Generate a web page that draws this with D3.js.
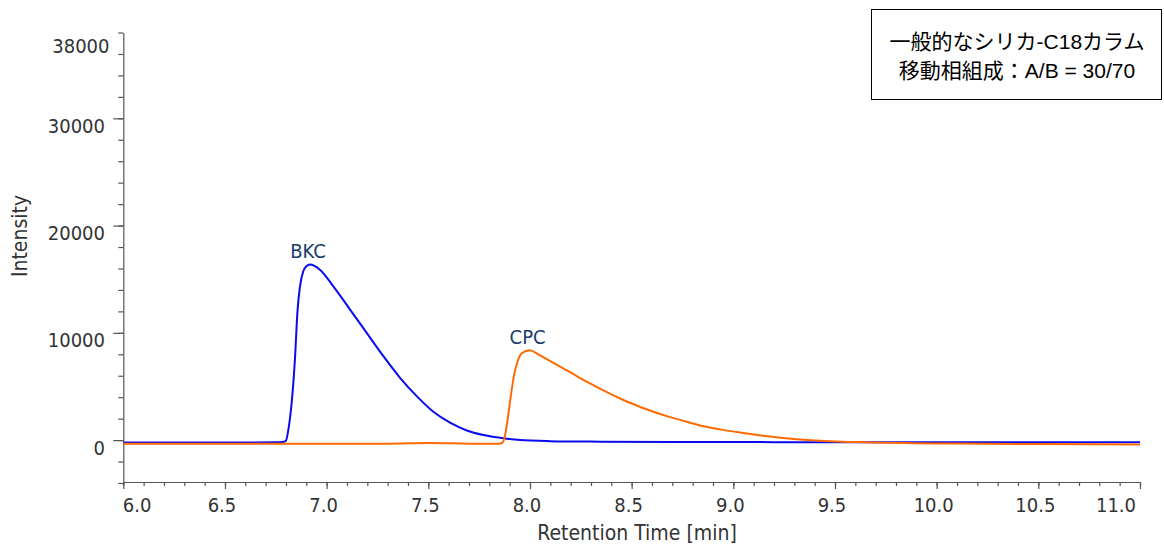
<!DOCTYPE html>
<html>
<head>
<meta charset="utf-8">
<script src="https://cdn.jsdelivr.net/npm/d3@7"></script>
<style>
    html, body { margin: 0; padding: 0; background: #fff; }
    svg { display: block; }
</style>
</head>
<body>
<svg id="chart" width="1164" height="547"></svg>
<script>
// Chromatogram data: [retention time (min), intensity]
var bkcSeries = [
    [6.00, -220], [6.30, -220], [6.60, -215], [6.75, -210], [6.79, -150],
    [6.80, -60], [6.812, 1000], [6.828, 3480], [6.845, 7820], [6.856, 11860],
    [6.869, 14340], [6.885, 15740], [6.90, 16200], [6.918, 16380], [6.94, 16250],
    [6.967, 15890], [7.033, 14340], [7.115, 12170], [7.197, 10000], [7.279, 7820],
    [7.361, 5810], [7.443, 4100], [7.525, 2640], [7.607, 1620], [7.689, 900],
    [7.771, 470], [7.886, 130], [7.95, 0], [8.10, -100], [8.35, -150],
    [8.70, -180], [9.20, -190], [9.60, -200], [10.0, -200], [10.5, -200], [11.0, -210]
];
var cpcSeries = [
    [6.00, -340], [6.50, -330], [7.00, -340], [7.30, -330], [7.50, -270],
    [7.70, -330], [7.84, -350], [7.86, -300], [7.875, 250], [7.89, 1900],
    [7.905, 4000], [7.92, 5900], [7.94, 7400], [7.96, 8100], [7.998, 8380],
    [8.04, 8000], [8.115, 7200], [8.197, 6330], [8.279, 5440], [8.361, 4630],
    [8.443, 3880], [8.525, 3230], [8.607, 2640], [8.689, 2140], [8.771, 1710],
    [8.853, 1300], [8.935, 1000], [9.033, 700], [9.148, 400], [9.312, 80],
    [9.476, -100], [9.64, -200], [10.07, -320], [10.5, -370], [11.0, -400]
];
var peakNames = ['BKC', 'CPC'];
var seriesColors = ['#0a0af0', '#ff6a00'];

var xMajorTicks = [6.0, 6.5, 7.0, 7.5, 8.0, 8.5, 9.0, 9.5, 10.0, 10.5, 11.0];
var yMajorTicks = [0, 10000, 20000, 30000];
var yMaxLabel = 38000;
var legendLines = ['一般的なシリカ-C18カラム', '移動相組成：A/B = 30/70'];

var svg = d3.select('#chart'),
    axisColor = '#555',
    textColor = '#333',
    tickFont = '"DejaVu Sans Condensed", "DejaVu Sans", sans-serif';

var x = d3.scaleLinear().domain([6, 11]).range([123.3, 1140]),
    y = d3.scaleLinear().domain([-4000, 38000]).range([483, 32.5]);

var xMinorTicks = d3.range(60, 111).map(function(d) { return d / 10; }),
    yMinorTicks = d3.range(-4000, 38001, 2000);

/**
 * Strips the default axis labels and sets our colours
 * @param  {selection} g - the axis group
 */
var styleAxis = function(g) {
    g.selectAll('path, line').attr('stroke', axisColor).attr('stroke-width', 1.2);
    g.selectAll('text').remove();
};

/**
 * Sets the text font used all over the plot
 * @param  {selection} t    - the text selection
 * @param  {int}       size - font size in px
 */
var textStyle = function(t, size) {
    t.style('font-family', tickFont)
        .style('font-stretch', 'condensed')
        .style('font-size', size + 'px')
        .style('fill', textColor);
};

// x axis: minor ticks, major ticks
svg.append('g')
    .attr('transform', 'translate(0,482)')
    .call(d3.axisBottom(x).tickValues(xMinorTicks).tickSize(4).tickSizeOuter(0))
    .call(styleAxis);
svg.append('g')
    .attr('transform', 'translate(0,482)')
    .call(d3.axisBottom(x).tickValues(xMajorTicks).tickSize(7).tickSizeOuter(0))
    .call(styleAxis)
    .select('.domain').remove();

// y axis
svg.append('g')
    .attr('transform', 'translate(123.3,0)')
    .call(d3.axisLeft(y).tickValues(yMinorTicks).tickSize(5).tickSizeOuter(0))
    .call(styleAxis);
svg.append('g')
    .attr('transform', 'translate(123.3,0)')
    .call(d3.axisLeft(y).tickValues(yMajorTicks).tickSize(10).tickSizeOuter(0))
    .call(styleAxis)
    .select('.domain').remove();

// tick labels (edge labels are pulled inside like the original)
svg.append('g').selectAll('text')
    .data(xMajorTicks)
    .enter().append('text')
    .attr('x', function(d, i) {
        if (i === 0) { return x(d) - 0.5; }
        if (i === xMajorTicks.length - 1) { return x(d) - 4; }
        return x(d) - 3;
    })
    .attr('y', 511.5)
    .attr('text-anchor', function(d, i) {
        if (i === 0) { return 'start'; }
        return i === xMajorTicks.length - 1 ? 'end' : 'middle';
    })
    .call(textStyle, 20)
    .text(d3.format('.1f'));

svg.append('g').selectAll('text')
    .data(yMajorTicks)
    .enter().append('text')
    .attr('x', 105)
    .attr('y', function(d) { return y(d) + 14.5; })
    .attr('text-anchor', 'end')
    .call(textStyle, 20)
    .text(function(d) { return d; });

svg.append('text')
    .attr('x', 109.5)
    .attr('y', y(yMaxLabel) + 20.8)
    .attr('text-anchor', 'end')
    .call(textStyle, 20)
    .text(yMaxLabel);

// axis titles
svg.append('text')
    .attr('x', 637)
    .attr('y', 540)
    .attr('text-anchor', 'middle')
    .call(textStyle, 21)
    .text('Retention Time [min]');

svg.append('text')
    .attr('transform', 'translate(27,236) rotate(-90)')
    .attr('text-anchor', 'middle')
    .call(textStyle, 21)
    .text('Intensity');

// traces
var line = d3.line()
    .x(function(d) { return x(d[0]); })
    .y(function(d) { return y(d[1]); })
    .curve(d3.curveMonotoneX);

[bkcSeries, cpcSeries].forEach(function(series, i) {
    svg.append('path')
        .datum(series)
        .attr('d', line)
        .attr('fill', 'none')
        .attr('stroke', seriesColors[i])
        .attr('stroke-width', 2)
        .attr('stroke-linejoin', 'round');

    // peak name just above the apex
    var apex = d3.greatest(series, function(d) { return d[1]; });
    svg.append('text')
        .attr('x', x(apex[0]) - 2)
        .attr('y', y(apex[1]) - 6.5)
        .attr('text-anchor', 'middle')
        .call(textStyle, 20)
        .style('fill', '#173c6b')
        .text(peakNames[i]);
});

// annotation box
var legend = svg.append('g');
legend.append('rect')
    .attr('x', 871.5)
    .attr('y', 9.5)
    .attr('width', 290)
    .attr('height', 90)
    .attr('fill', '#fff')
    .attr('stroke', '#000')
    .attr('stroke-width', 1);
legend.selectAll('text.note')
    .data(legendLines)
    .enter().append('text')
    .attr('class', 'note')
    .attr('x', 1017)
    .attr('y', function(d, i) { return 48.5 + i * 29; })
    .attr('text-anchor', 'middle')
    .style('font', '21px "Liberation Sans", "Noto Sans CJK JP", sans-serif')
    .style('fill', '#000')
    .text(function(d) { return d; });
</script>
</body>
</html>
